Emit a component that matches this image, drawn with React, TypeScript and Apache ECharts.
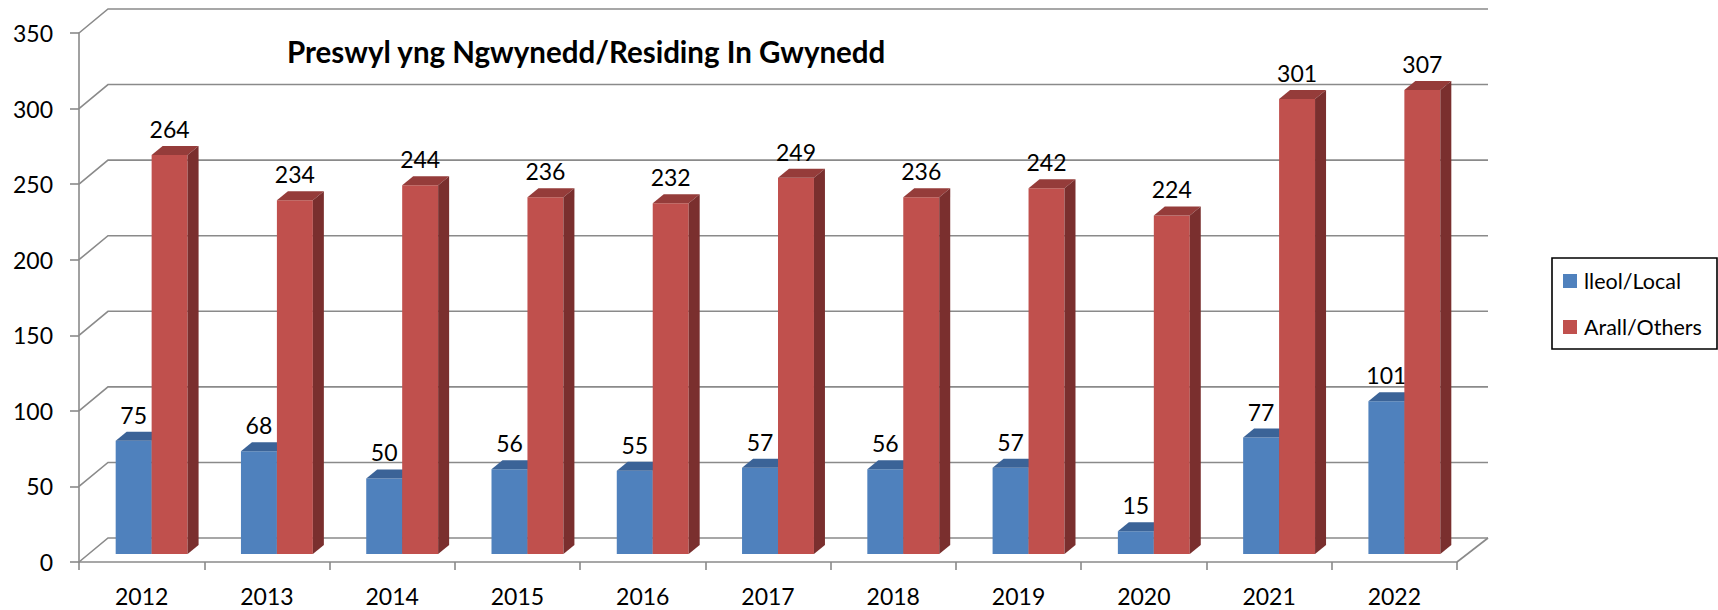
import React, { useEffect, useRef } from "react";
import * as echarts from "echarts";

const years = ["2012", "2013", "2014", "2015", "2016", "2017", "2018", "2019", "2020", "2021", "2022"];
const localValues = [75, 68, 50, 56, 55, 57, 56, 57, 15, 77, 101];
const otherValues = [264, 234, 244, 236, 232, 249, 236, 242, 224, 301, 307];
const yTicks = [0, 50, 100, 150, 200, 250, 300, 350];
const seriesNames = ["lleol/Local", "Arall/Others"];
const titleText = "Preswyl yng Ngwynedd/Residing In Gwynedd";

const FONT = "Lato, 'Open Sans', sans-serif";
const GRID_COLOR = "#8a8a8a";

const BLUE = { front: "#4F81BD", top: "#3B6397", side: "#385D8A" };
const RED = { front: "#C0504D", top: "#953C3A", side: "#7A2F2E" };

// wall depth (pixels): left side and right side
const WALL_DX_L = 29;
const WALL_DX_R = 31;
const WALL_DY = -24;
// bar depth
const BAR_DX = 11;
const BAR_DY = -9;
const BAR_FRAC = 0.287;

function wallRender(params: any, api: any) {
  const cs = params.coordSys;
  const v = api.value(1);
  const y = api.coord([0, v])[1];
  const left = cs.x;
  const right = cs.x + cs.width;
  const children: any[] = [
    {
      type: "polyline",
      shape: {
        points: [
          [left, y],
          [left + WALL_DX_L, y + WALL_DY],
          [right + WALL_DX_R, y + WALL_DY],
        ],
      },
      style: { stroke: GRID_COLOR, lineWidth: 1.6, fill: "none" },
    },
  ];
  if (v === 0) {
    children.push({
      type: "line",
      shape: { x1: right + WALL_DX_R, y1: y + WALL_DY, x2: right, y2: y },
      style: { stroke: GRID_COLOR, lineWidth: 1.6 },
    });
  }
  return { type: "group", children };
}

function makeBarRender(isLocal: boolean, colors: { front: string; top: string; side: string }) {
  return (params: any, api: any) => {
    const i = api.value(0);
    const v = api.value(1);
    const top = api.coord([i, v]);
    const base = api.coord([i, 0]);
    const bw = api.size([1, 0])[0];
    const w = bw * BAR_FRAC;
    const x0 = isLocal ? top[0] - w : top[0];
    const x1 = x0 + w;
    const ty = top[1];
    const by = base[1];
    return {
      type: "group",
      children: [
        {
          type: "rect",
          shape: { x: x0, y: ty, width: w, height: by - ty },
          style: { fill: colors.front },
        },
        {
          type: "polygon",
          shape: {
            points: [
              [x0, ty],
              [x0 + BAR_DX, ty + BAR_DY],
              [x1 + BAR_DX, ty + BAR_DY],
              [x1, ty],
            ],
          },
          style: { fill: colors.top },
        },
        {
          type: "polygon",
          shape: {
            points: [
              [x1, ty],
              [x1 + BAR_DX, ty + BAR_DY],
              [x1 + BAR_DX, by + BAR_DY],
              [x1, by],
            ],
          },
          style: { fill: colors.side },
        },
        {
          type: "text",
          style: {
            x: (x0 + x1) / 2,
            y: ty - 26,
            text: String(v),
            align: "center",
            verticalAlign: "middle",
            fill: "#000",
            font: `23px ${FONT}`,
          },
        },
      ],
    };
  };
}

export default function App() {
  const ref = useRef<HTMLDivElement>(null);

  useEffect(() => {
    document.body.style.margin = "0";
    if (!ref.current) return;
    const chart = echarts.init(ref.current, null, { renderer: "svg" });
    const option: any = {
      animation: false,
      backgroundColor: "#ffffff",
      title: {
        text: titleText,
        left: 287,
        top: 34,
        padding: 0,
        textStyle: { fontFamily: FONT, fontSize: 29.5, fontWeight: "bold", color: "#000", lineHeight: 34 },
      },
      legend: {
        data: seriesNames,
        orient: "vertical",
        left: 1563,
        top: 270,
        icon: "rect",
        itemWidth: 14,
        itemHeight: 14,
        itemGap: 24,
        padding: 0,
        textStyle: { fontFamily: FONT, fontSize: 21.5, color: "#000", lineHeight: 21, padding: [0, 0, 0, 2] },
      },
      graphic: [
        {
          type: "rect",
          shape: { x: 1552, y: 258, width: 165, height: 91 },
          style: { fill: "none", stroke: "#000", lineWidth: 1.6 },
          z: 10,
        },
      ],
      grid: [
        { left: 79, top: 33, width: 1378, height: 529 },
        { left: 89, top: 25, width: 1378, height: 529 },
      ],
      xAxis: [
        {
          type: "category",
          gridIndex: 0,
          data: years,
          axisLine: { lineStyle: { color: GRID_COLOR, width: 1.6 } },
          axisTick: { show: true, length: 8, lineStyle: { color: GRID_COLOR, width: 1.6 } },
          axisLabel: { fontFamily: FONT, fontSize: 23, color: "#000", margin: 22 },
          splitLine: { show: false },
        },
        {
          type: "category",
          gridIndex: 1,
          data: years,
          show: false,
        },
      ],
      yAxis: [
        {
          type: "value",
          gridIndex: 0,
          min: 0,
          max: 350,
          interval: 50,
          axisLine: { show: true, lineStyle: { color: GRID_COLOR, width: 1.6 } },
          axisTick: { show: true, length: 9, lineStyle: { color: GRID_COLOR, width: 1.6 } },
          axisLabel: { fontFamily: FONT, fontSize: 23, color: "#000", margin: 26 },
          splitLine: { show: false },
        },
        {
          type: "value",
          gridIndex: 1,
          min: 0,
          max: 350,
          interval: 50,
          show: false,
          splitLine: { show: false },
        },
      ],
      series: [
        {
          type: "custom",
          name: "walls",
          xAxisIndex: 0,
          yAxisIndex: 0,
          data: yTicks.map((v) => [0, v]),
          renderItem: wallRender,
          silent: true,
          z: 1,
        },
        {
          type: "custom",
          name: seriesNames[0],
          xAxisIndex: 1,
          yAxisIndex: 1,
          data: localValues.map((v, i) => [i, v]),
          renderItem: makeBarRender(true, BLUE),
          itemStyle: { color: BLUE.front },
          z: 2,
        },
        {
          type: "custom",
          name: seriesNames[1],
          xAxisIndex: 1,
          yAxisIndex: 1,
          data: otherValues.map((v, i) => [i, v]),
          renderItem: makeBarRender(false, RED),
          itemStyle: { color: RED.front },
          z: 3,
        },
      ],
    };
    chart.setOption(option);
    return () => chart.dispose();
  }, []);

  return <div ref={ref} style={{ width: 1718, height: 610, position: "absolute", left: 0, top: 0 }} />;
}
